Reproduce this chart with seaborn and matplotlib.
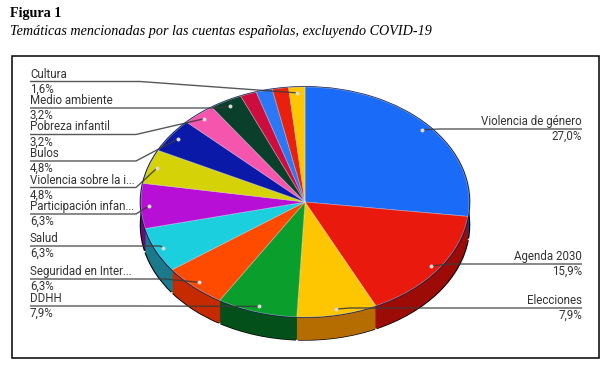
import numpy as np
import matplotlib
matplotlib.use("Agg")
import matplotlib.pyplot as plt
import seaborn as sns

sns.set_theme(style="white")
plt.rcParams["font.family"] = ["Roboto", "DejaVu Sans"]

# Data
temas = ["Violencia de género", "Agenda 2030", "Elecciones", "DDHH", "Seguridad en Inter...",
         "Salud", "Participación infan...", "Violencia sobre la i...", "Bulos", "Pobreza infantil",
         "Medio ambiente", "", "", "", "Cultura"]
valores = [27.0, 15.9, 7.9, 7.9, 6.3, 6.3, 6.3, 4.8, 4.8, 3.2, 3.2, 1.6, 1.6, 1.6, 1.6]
etiquetas = ["27,0%", "15,9%", "7,9%", "7,9%", "6,3%", "6,3%", "6,3%", "4,8%", "4,8%", "3,2%",
             "3,2%", "", "", "", "1,6%"]

arriba = sns.color_palette(["#1a6bf8", "#ea190d", "#fdc600", "#0a9e2c", "#ff4b00", "#1bcfdf",
                            "#b80fd6", "#d6d208", "#0b19a8", "#f655ae", "#0a3f2b", "#cd0d3e",
                            "#2a78f6", "#e8210f", "#fdc600"])
lados = sns.color_palette(["#0c3a96", "#9c0b05", "#b56c00", "#04501a", "#c52a00", "#1a7a8c",
                           "#6a0a80", "#80800a", "#08106a", "#96306a", "#062a1c", "#800825",
                           "#184a98", "#901408", "#a07a00"])

# Pixel geometry of the pie
W, H = 616, 379
cx, cy, rx, ry = 305, 202, 164, 115
fondo = 0.2

fig = plt.figure(figsize=(W / 100, H / 100), dpi=100, facecolor="white")

# Axes for the pie, stretched so the circle becomes an ellipse
xm, yt, yb = 1.1, 1.1, 1.4
ax = fig.add_axes([(cx - rx * xm) / W, 1 - (cy + ry * yb) / H, 2 * rx * xm / W, ry * (yt + yb) / H])
kw = dict(startangle=90, counterclock=False)
ax.pie(valores, colors=["#000000"] * len(valores), radius=1.012, center=(0, -fondo), **kw)
for dy in np.linspace(fondo, 0, 26):
    ax.pie(valores, colors=lados, center=(0, -dy), wedgeprops=dict(linewidth=0), **kw)
ax.pie(valores, colors=["#0a1a50"] * len(valores), radius=1.008, wedgeprops=dict(linewidth=0), **kw)
ax.pie(valores, colors=arriba, wedgeprops=dict(linewidth=0.5, edgecolor=(1, 1, 1, 0.45)), **kw)
ax.set_aspect("auto")
ax.set_xlim(-xm, xm)
ax.set_ylim(-yb, yt)
ax.axis("off")

# Overlay in pixels for frame, leaders and text
ov = fig.add_axes([0, 0, 1, 1], facecolor="none")
ov.set_xlim(0, W)
ov.set_ylim(H, 0)
ov.axis("off")
ov.add_patch(plt.Rectangle((11.5, 55.5), 587.5, 302.5, fill=False, edgecolor="black", linewidth=1.1))

# Leader lines: (index, underline y, text start, underline end, elbow)
medios = (np.cumsum(valores) - np.array(valores) / 2) / 100 * 2 * np.pi
px = cx + 0.95 * rx * np.sin(medios)
py = cy - 0.95 * ry * np.cos(medios)
izquierda = {14: (81.5, 140), 10: (108, 215), 9: (134.5, 136), 8: (161, 136), 7: (187.5, 136),
             6: (214, 136), 5: (246, 160), 4: (279, 165), 3: (306, 140)}
derecha = {0: (129, 440), 1: (264, 450), 2: (308, 350)}
linea = dict(color="#3a3a3a", linewidth=1.0, solid_capstyle="butt", alpha=0.85)
texto = dict(fontsize=8.3, color="#333333")

for i, (y, codo) in izquierda.items():
    ov.plot([30, codo, px[i]], [y, y, py[i]], **linea)
    ov.text(30, y - 1, temas[i], ha="left", va="bottom", **texto)
    ov.text(30, y + 1, etiquetas[i], ha="left", va="top", **texto)
for i, (y, codo) in derecha.items():
    ov.plot([582, codo, px[i]], [y, y, py[i]], **linea)
    ov.text(582, y - 1, temas[i], ha="right", va="bottom", **texto)
    ov.text(582, y + 1, etiquetas[i], ha="right", va="top", **texto)
con_punto = list(izquierda) + list(derecha)
ov.scatter(px[con_punto], py[con_punto], s=8, color="#dcdcdc", linewidths=0, zorder=5)

ov.text(10, 14, "Figura 1", family="Liberation Serif", fontweight="bold", fontsize=10.2,
        color="black", va="center")
ov.text(10, 31, "Temáticas mencionadas por las cuentas españolas, excluyendo COVID-19",
        family="Liberation Serif", style="italic", fontsize=10.2, color="black", va="center")

fig.savefig("out.png", dpi=100)
